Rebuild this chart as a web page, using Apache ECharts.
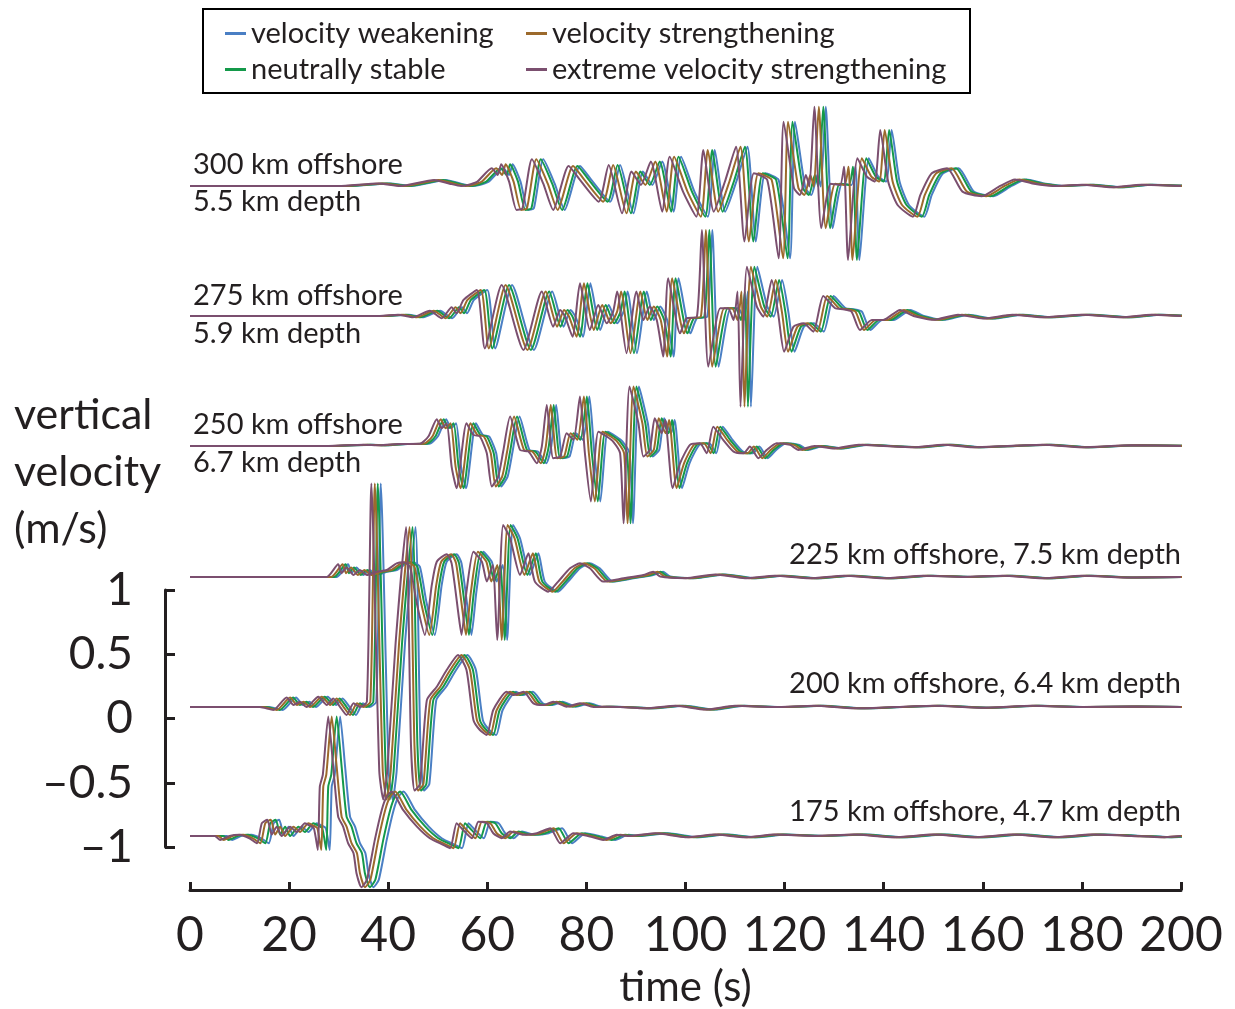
<!DOCTYPE html>
<html>
<head>
<meta charset="utf-8">
<script src="https://cdn.jsdelivr.net/npm/echarts@6/dist/echarts.min.js"></script>
<style>
html, body { margin: 0; padding: 0; background: #fff; }
#chart { width: 1235px; height: 1009px; }
</style>
</head>
<body>
<div id="chart"></div>
<script>
// friction models, in the order they are stacked (purple drawn last, on top)
const models = ['velocity weakening', 'neutrally stable', 'velocity strengthening', 'extreme velocity strengthening'];
const colors = ['#4a7fc4', '#14994a', '#9c6a2c', '#7b4f6f'];

const stations = ['300 km offshore', '275 km offshore', '250 km offshore', '225 km offshore', '200 km offshore', '175 km offshore'];
const depths = ['5.5 km depth', '5.9 km depth', '6.7 km depth', '7.5 km depth', '6.4 km depth', '4.7 km depth'];

// vertical velocity (m/s) vs time (s)
const wave300 = [[0,0],[30,0],[38,0.02],[42.4,0],[49.3,0.047],[52.4,0.018],[54.7,0],[57.8,0.029],[60.9,0.138],[62.1,0.086],[62.8,0.169],[64.4,0.034],[65.9,-0.187],[67.1,-0.174],[69.0,0.208],[71.3,0.018],[73.3,-0.187],[76.4,0.156],[78.7,0.047],[82.5,-0.122],[84.5,0.163],[87.2,-0.213],[89.1,0.112],[91.0,0.008],[93.0,0.19],[95.3,-0.2],[96.8,0.228],[99.5,-0.044],[102.2,-0.239],[103.6,0.28],[105.7,-0.2],[108.0,0.039],[110.2,0.306],[111.9,-0.433],[113.8,0.099],[116.5,0.047],[118.8,-0.563],[119.8,0.5],[121.9,-0.018],[123.1,-0.07],[124.3,0.086],[125.0,-0.005],[126.0,0.617],[127.4,-0.329],[129.3,0.018],[131.2,0.008],[132.0,0.15],[132.8,-0.576],[134.7,0.215],[136.6,0.073],[138.2,0.034],[139.3,0.436],[140.9,0.034],[142.8,-0.148],[145.9,-0.239],[147.4,-0.07],[149.7,0.099],[152.8,0.138],[155.9,-0.044],[159.8,-0.08],[163.5,0],[166.5,0.05],[170,0.02],[175,0],[180,0.01],[186,-0.01],[192,0.01],[200,0]];
const wave275 = [[0,0],[30,0],[38.3,0],[42,0.01],[45,-0.01],[48.4,0.041],[50.8,-0.018],[52.8,0.068],[53.8,0.021],[55.2,0.125],[57.9,0.202],[59.5,-0.252],[62.9,0.241],[67.3,-0.265],[71.0,0.19],[73.3,-0.083],[74.7,0.047],[75.7,-0.005],[77.2,-0.161],[78.7,0.254],[80.7,-0.109],[82.4,0.086],[84.1,-0.057],[85.4,0.034],[86.2,0.19],[88.1,-0.29],[90.1,0.19],[91.5,-0.031],[92.8,0.073],[94.2,-0.031],[95.5,-0.316],[96.5,0.293],[98.9,-0.135],[100.2,-0.018],[102.3,-0.005],[103.3,0.669],[104.6,-0.394],[107.0,0.06],[108.6,0.06],[109.7,-0.031],[110.5,0.19],[111.1,-0.706],[112.4,0.384],[114.4,0.073],[115.7,-0.005],[117.4,0.28],[118.7,0.021],[119.9,-0.278],[121.8,-0.083],[123.8,-0.057],[125.8,-0.122],[127.8,0.156],[130.2,0.06],[131.8,0.052],[133.5,0.034],[135.2,-0.109],[137.6,-0.031],[139.9,-0.031],[143.3,0.047],[146,0],[150,-0.03],[155,0.01],[160,-0.02],[166,0.01],[172,-0.01],[180,0.01],[188,-0.01],[194,0.01],[200,0]];
const wave250 = [[0,0],[28,0],[35,0.01],[38.3,0.005],[42,0.015],[46.4,0.016],[48.1,0.073],[49.8,0.208],[50.8,0.138],[51.8,0.176],[52.8,-0.161],[53.8,-0.329],[55.8,0.176],[57.2,0.086],[58.5,0.073],[59.9,-0.057],[60.9,-0.316],[62.2,-0.239],[63.2,-0.044],[64.6,0.228],[66.6,-0.031],[68.3,-0.044],[70.0,-0.135],[71.0,-0.005],[72.0,0.319],[73.3,-0.096],[74.7,-0.083],[76.0,0.099],[77.4,0.047],[78.7,0.384],[79.7,-0.057],[80.9,-0.433],[82.4,0.111],[84.1,0.073],[85.4,0.034],[86.8,-0.057],[87.5,-0.602],[88.7,0.462],[90.5,0.176],[91.5,-0.083],[92.8,-0.031],[93.8,0.215],[95.2,0.099],[95.9,0.202],[97.4,-0.329],[98.9,-0.135],[100.9,0.008],[102.9,0.021],[104.3,-0.057],[105.6,0.15],[107.6,0.047],[109.7,-0.044],[111.7,-0.057],[113.0,-0.005],[114.7,-0.096],[116.4,-0.031],[118.4,0.021],[121.1,0.008],[122.8,-0.031],[126,0],[130,-0.02],[135,0.01],[140,0],[146,-0.01],[152,0.01],[158,-0.01],[165,0],[172,0.01],[180,-0.01],[190,0.005],[200,0]];
const wave225 = [[0,0],[22,0],[27.6,0],[29.9,0.099],[30.6,0.029],[31.6,0.073],[33.0,0.016],[34.3,0.054],[35.7,0.016],[37.7,0.041],[39.7,0.054],[41.7,0.106],[43.1,0.114],[44.4,0.08],[45.7,-0.192],[47.4,-0.451],[48.8,-0.062],[49.8,0.119],[51.8,0.177],[52.8,0.106],[54.2,-0.296],[54.8,-0.451],[55.8,-0.114],[57.2,0.197],[58.9,0.119],[59.9,-0.036],[61.1,0.093],[62.0,-0.49],[63.2,0.405],[64.6,0.301],[66.6,0.016],[68.3,0.184],[69.6,-0.036],[72.3,-0.114],[74.3,-0.036],[76.7,0.068],[78.7,0.106],[80.7,0.068],[83.4,-0.036],[87.5,-0.01],[91.5,0.016],[93.5,0.041],[94.9,0.003],[100,-0.01],[106,0.02],[112,-0.01],[118,0.01],[125,-0.01],[132,0.01],[140,-0.01],[148,0.01],[156,0],[164,0.01],[172,-0.01],[180,0.01],[190,-0.005],[200,0]];
const wave200 = [[0,0],[14.1,0],[16.8,-0.023],[19.5,0.075],[20.9,0.016],[22.2,0.041],[23.5,0],[25.9,0.08],[27.6,0.016],[28.9,0.067],[30.3,0],[31.6,-0.062],[33.0,0.029],[34.3,0],[35.7,0.041],[36.6,1.74],[38.2,-0.5],[39.0,-0.72],[39.8,-0.5],[41.5,0.5],[43.6,1.40],[44.6,-0.3],[45.3,-0.65],[46.4,-0.6],[47.8,0.054],[49.8,0.158],[51.8,0.288],[54.1,0.405],[55.8,0.288],[57.2,-0.101],[58.5,-0.179],[59.9,-0.218],[61.2,-0.023],[63.9,0.119],[65.2,0.093],[67.3,0.119],[69.3,0.029],[71.3,0.016],[73.3,0.041],[76.0,0.003],[78.7,0.029],[81.4,0],[84.1,0.003],[86.8,0],[92,-0.01],[98,0.01],[104,-0.02],[110,0.01],[118,0],[126,0.01],[134,-0.01],[142,0],[150,0.01],[160,-0.005],[170,0.01],[180,0],[190,0.005],[200,0]];
const wave175 = [[0,0],[5,0],[6.1,-0.031],[8,0],[10,0.008],[12,-0.02],[13.5,-0.057],[14.5,0.099],[15.6,0.125],[16.5,0.01],[17.5,0.072],[18.5,0],[20.2,0.072],[21.5,0.03],[23.2,0.099],[24.2,0.08],[25.0,0.06],[25.8,-0.109],[26.2,0.384],[26.8,0.475],[27.9,0.93],[28.9,0.539],[29.9,0.15],[30.9,0.072],[31.9,-0.057],[33.0,-0.135],[33.6,-0.29],[34.6,-0.4],[35.7,-0.342],[37.3,-0.031],[38.7,0.202],[39.7,0.306],[40.7,0.345],[43.0,0.202],[45.8,0.072],[48.4,-0.018],[51.1,-0.07],[52.5,-0.096],[53.8,0.099],[54.8,0.06],[56.9,-0.018],[58.2,0.111],[59.9,0.099],[61.2,0.021],[62.9,-0.018],[64.6,0.034],[67.3,0.008],[70.0,0.021],[72.7,0.06],[74.7,-0.057],[77.4,0.021],[80.7,-0.005],[83.4,-0.031],[86.1,0.008],[88.8,0],[94,0.02],[100,-0.01],[106,0.01],[112,-0.01],[118,0.01],[126,0],[134,0.01],[142,-0.01],[150,0.01],[158,-0.01],[166,0.01],[174,-0.01],[182,0.01],[190,0],[196,-0.01],[200,0]];

// arrival delay (s) of each model relative to the extreme velocity strengthening trace
const lag300 = [2.3, 1.8, 0.9, 0];
const lag275 = [2.1, 1.5, 0.8, 0];
const lag250 = [1.9, 1.4, 0.8, 0];
const lag225 = [2.0, 1.5, 0.9, 0];
const lag200 = [1.9, 1.3, 0.7, 0];
const lag175 = [2.4, 1.7, 0.7, 0];

const waves = [wave300, wave275, wave250, wave225, wave200, wave175];
const lags = [lag300, lag275, lag250, lag225, lag200, lag175];
// vertical offset of each trace baseline, in m/s on the scale bar
const traceOffset = [4.144, 3.132, 2.121, 1.101, 0.089, -0.914];

const ink = '#231f20';
const font = 'Lato';

const series = [];
waves.forEach((w, s) => {
  models.forEach((m, k) => {
    series.push({
      name: m,
      type: 'line',
      xAxisIndex: 0,
      yAxisIndex: 0,
      data: [[0, traceOffset[s]]].concat(w.map(p => [p[0] + lags[s][k], p[1] + traceOffset[s]])),
      showSymbol: false,
      smooth: 0.2,
      silent: true,
      lineStyle: { width: 2, color: colors[k] },
      itemStyle: { color: colors[k] },
      z: 2 + k
    });
  });
});

const graphic = [
  { type: 'rect', shape: { x: 203, y: 9, width: 767, height: 84 }, style: { fill: 'none', stroke: '#000', lineWidth: 2 } },
  { type: 'text', x: 14, y: 472, style: { text: 'vertical\nvelocity\n(m/s)', fontSize: 43, lineHeight: 57, fontFamily: font, fill: ink, verticalAlign: 'middle' } }
];
const labelY = [[165, 202], [296, 334], [425, 463]];
labelY.forEach((ys, i) => {
  graphic.push({ type: 'text', x: 193, y: ys[0], style: { text: stations[i], fontSize: 29, fontFamily: font, fill: ink, verticalAlign: 'middle' } });
  graphic.push({ type: 'text', x: 193, y: ys[1], style: { text: depths[i], fontSize: 29, fontFamily: font, fill: ink, verticalAlign: 'middle' } });
});
[555, 684, 812].forEach((y, j) => {
  const i = j + 3;
  graphic.push({ type: 'text', x: 1181, y: y, style: { text: stations[i] + ', ' + depths[i], fontSize: 29, fontFamily: font, fill: ink, align: 'right', verticalAlign: 'middle' } });
});

const legendBase = {
  orient: 'vertical',
  top: 14,
  icon: 'rect',
  itemWidth: 21,
  itemHeight: 3,
  itemGap: 7,
  selectedMode: false,
  textStyle: { fontSize: 29, lineHeight: 29, fontFamily: font, color: ink }
};

const option = {
  animation: false,
  backgroundColor: '#fff',
  color: colors,
  legend: [
    Object.assign({}, legendBase, { left: 220, data: ['velocity weakening', 'neutrally stable'] }),
    Object.assign({}, legendBase, { left: 521, data: ['velocity strengthening', 'extreme velocity strengthening'] })
  ],
  grid: [
    { left: 190, right: 54, top: 100, bottom: 119, outerBoundsMode: 'none' },
    { left: 165, width: 10, top: 590, height: 257, outerBoundsMode: 'none' }
  ],
  xAxis: [
    {
      gridIndex: 0, type: 'value', min: 0, max: 200, interval: 20,
      name: 'time (s)', nameLocation: 'middle', nameGap: 76,
      nameTextStyle: { fontSize: 42, fontFamily: font, color: ink },
      axisLine: { onZero: false, lineStyle: { color: ink, width: 3 } },
      axisTick: { inside: true, length: 8, lineStyle: { color: ink, width: 3 } },
      axisLabel: { fontSize: 48, fontFamily: font, color: ink, margin: 22 },
      splitLine: { show: false }
    },
    { gridIndex: 1, type: 'value', min: 0, max: 1, show: false }
  ],
  yAxis: [
    { gridIndex: 0, type: 'value', min: -1.335, max: 4.813, show: false },
    {
      gridIndex: 1, type: 'value', min: -1, max: 1, interval: 0.5,
      axisLine: { show: true, onZero: false, lineStyle: { color: ink, width: 3 } },
      axisTick: { show: true, inside: true, length: 10, lineStyle: { color: ink, width: 3 } },
      axisLabel: {
        fontSize: 46, fontFamily: font, color: ink, margin: 32,
        formatter: v => (v < 0 ? '\u2013' + Math.abs(v) : String(v))
      },
      splitLine: { show: false }
    }
  ],
  graphic: graphic,
  series: series
};

const chart = echarts.init(document.getElementById('chart'), null, { renderer: 'canvas' });
chart.setOption(option);
</script>
</body>
</html>
